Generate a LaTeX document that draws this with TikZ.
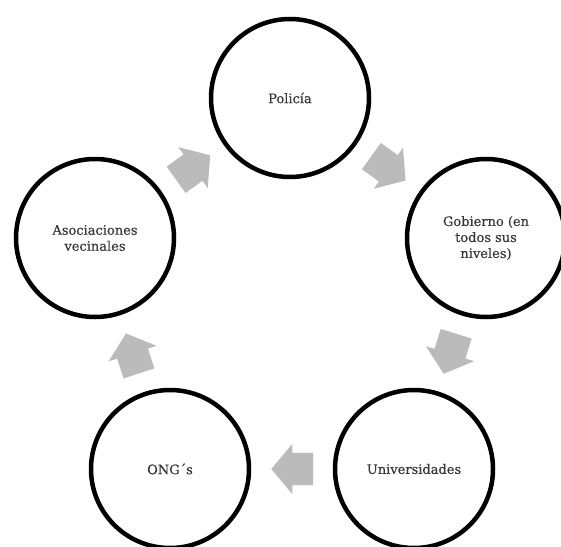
\documentclass[tikz,border=0pt]{standalone}
\usepackage{fontspec}
\setmainfont{DejaVu Serif}
\newfontfamily\labelfont{DejaVu Serif}[FakeBold=0.4]
\usepackage{tikz}
\usetikzlibrary{shapes.arrows}

\definecolor{flowgray}{RGB}{187,187,187}
\definecolor{textgray}{RGB}{55,55,55}

\begin{document}
\begin{tikzpicture}
  [x=1pt,y=-1pt,
   every node/.style={font=\labelfont\fontsize{13}{16}\selectfont,text=textgray,align=center},
   circ/.style={circle,draw=black,line width=4.5pt,minimum size=158pt,inner sep=0pt},
   flow/.style={single arrow,fill=flowgray,draw=none,minimum height=42pt,
     text height=0pt,text depth=0pt,inner xsep=0pt,inner ysep=16pt,
     single arrow head extend=9pt,single arrow tip angle=100,
     anchor=tail,pos=0.237,sloped,allow upside down}]
  \useasboundingbox (0,0) rectangle (561,546);

  \node[circ] (np) at (290,98)  {Policía};
  \node[circ] (ng) at (486,238) {Gobierno (en\\todos sus\\niveles)};
  \node[circ] (nu) at (414,469) {Universidades};
  \node[circ] (no) at (170,469) {ONG´s};
  \node[circ] (na) at (95,238)  {Asociaciones\\vecinales};

  \path (np) -- node[flow] {} (ng);
  \path (ng) -- node[flow] {} (nu);
  \path (nu) -- node[flow] {} (no);
  \path (no) -- node[flow] {} (na);
  \path (na) -- node[flow] {} (np);

\end{tikzpicture}
\end{document}
